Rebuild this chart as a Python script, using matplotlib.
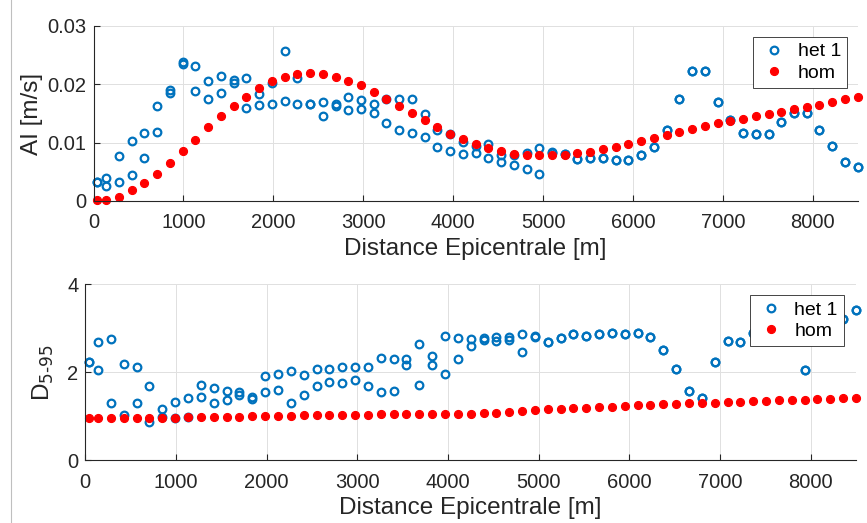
import matplotlib
matplotlib.use("Agg")
import matplotlib.pyplot as plt
from matplotlib.lines import Line2D

plt.rcParams['font.family'] = ['Liberation Sans', 'DejaVu Sans']

distance = [40, 142, 283, 425, 567, 708, 850, 992, 1133, 1275, 1417, 1558, 1700, 1842, 1983,
            2125, 2267, 2408, 2550, 2692, 2833, 2975, 3117, 3258, 3400, 3542, 3683, 3825, 3967,
            4108, 4250, 4392, 4533, 4675, 4817, 4958, 5100, 5242, 5383, 5525, 5667, 5808, 5950,
            6092, 6233, 6375, 6517, 6658, 6800, 6942, 7083, 7225, 7367, 7508, 7650, 7792, 7933,
            8075, 8217, 8358, 8500]

# Arias intensity [m/s]
ai_het1_a = [0.0033, 0.0039, 0.0077, 0.0103, 0.0116, 0.0163, 0.0190, 0.0238, 0.0231, 0.0205,
             0.0214, 0.0207, 0.0210, 0.0183, 0.0202, 0.0257, 0.0211, 0.0167, 0.0170, 0.0166,
             0.0179, 0.0173, 0.0167, 0.0175, 0.0175, 0.0174, 0.0149, 0.0122, 0.0114, 0.0101,
             0.0094, 0.0098, 0.0079, 0.0079, 0.0083, 0.0091, 0.0084, 0.0080, 0.0072, 0.0073,
             0.0074, 0.0070, 0.0070, 0.0078, 0.0093, 0.0121, 0.0175, 0.0223, 0.0223, 0.0169,
             0.0139, 0.0116, 0.0114, 0.0115, 0.0136, 0.0151, 0.0150, 0.0121, 0.0095, 0.0067,
             0.0059]
ai_het1_b = [0.0033, 0.0026, 0.0032, 0.0045, 0.0073, 0.0118, 0.0185, 0.0235, 0.0189, 0.0174,
             0.0185, 0.0202, 0.0159, 0.0165, 0.0166, 0.0172, 0.0167, 0.0167, 0.0146, 0.0163,
             0.0156, 0.0158, 0.0150, 0.0133, 0.0122, 0.0116, 0.0110, 0.0093, 0.0086, 0.0081,
             0.0083, 0.0073, 0.0067, 0.0061, 0.0054, 0.0047, 0.0083, 0.0080, 0.0072, 0.0073,
             0.0074, 0.0070, 0.0070, 0.0078, 0.0093, 0.0121, 0.0175, 0.0223, 0.0223, 0.0169,
             0.0139, 0.0116, 0.0114, 0.0115, 0.0136, 0.0151, 0.0150, 0.0121, 0.0095, 0.0067,
             0.0059]
ai_hom = [0.0001, 0.0002, 0.0007, 0.0018, 0.0031, 0.0046, 0.0065, 0.0085, 0.0105, 0.0126,
          0.0145, 0.0163, 0.0179, 0.0193, 0.0205, 0.0213, 0.0218, 0.0219, 0.0217, 0.0213,
          0.0206, 0.0198, 0.0187, 0.0175, 0.0163, 0.0150, 0.0138, 0.0126, 0.0115, 0.0106,
          0.0097, 0.0091, 0.0085, 0.0081, 0.0079, 0.0078, 0.0078, 0.0079, 0.0082, 0.0084,
          0.0089, 0.0093, 0.0098, 0.0103, 0.0108, 0.0113, 0.0118, 0.0123, 0.0128, 0.0133,
          0.0137, 0.0141, 0.0145, 0.0149, 0.0153, 0.0157, 0.0161, 0.0165, 0.0169, 0.0174,
          0.0179]

# Significant duration D5-95
d_het1_a = [2.23, 2.70, 2.75, 2.20, 2.11, 1.68, 1.17, 1.32, 1.42, 1.72, 1.64, 1.57, 1.56, 1.45,
            1.91, 1.96, 2.02, 1.95, 2.08, 2.08, 2.13, 2.12, 2.13, 2.32, 2.30, 2.30, 2.65, 2.38,
            2.82, 2.77, 2.76, 2.77, 2.81, 2.81, 2.86, 2.83, 2.70, 2.78, 2.86, 2.83, 2.88, 2.89,
            2.87, 2.90, 2.80, 2.50, 2.08, 1.58, 1.42, 2.23, 2.71, 2.68, 2.90, 3.00, 3.10, 3.20,
            2.06, 3.25, 3.30, 3.22, 3.42]
d_het1_b = [2.23, 2.05, 1.31, 1.02, 1.30, 0.88, 0.99, 0.97, 0.99, 1.45, 1.31, 1.36, 1.48, 1.39,
            1.56, 1.59, 1.30, 1.49, 1.68, 1.78, 1.76, 1.83, 1.70, 1.55, 1.58, 2.17, 1.72, 2.17,
            1.97, 2.31, 2.59, 2.73, 2.72, 2.73, 2.47, 2.80, 2.70, 2.78, 2.86, 2.83, 2.88, 2.89,
            2.87, 2.90, 2.80, 2.50, 2.08, 1.58, 1.42, 2.23, 2.71, 2.68, 2.90, 3.00, 3.10, 3.20,
            2.06, 3.25, 3.30, 3.22, 3.42]
d_hom = [0.97, 0.97, 0.97, 0.97, 0.97, 0.97, 0.97, 0.97, 0.98, 0.98, 0.98, 0.99, 0.99, 1.00,
         1.00, 1.01, 1.01, 1.02, 1.02, 1.03, 1.03, 1.04, 1.04, 1.05, 1.05, 1.06, 1.06, 1.06,
         1.06, 1.06, 1.06, 1.08, 1.08, 1.09, 1.13, 1.14, 1.16, 1.17, 1.19, 1.20, 1.21, 1.22,
         1.23, 1.25, 1.26, 1.27, 1.28, 1.30, 1.31, 1.31, 1.32, 1.33, 1.34, 1.35, 1.36, 1.37,
         1.38, 1.39, 1.40, 1.41, 1.42]

series_labels = ["het 1", "hom"]
xlabel_text = "Distance Epicentrale [m]"
x_ticks = [0, 1000, 2000, 3000, 4000, 5000, 6000, 7000, 8000]
ai_ticks = [0, 0.01, 0.02, 0.03]
ai_tick_labels = ["0", "0.01", "0.02", "0.03"]
d_ticks = [0, 2, 4]

BLUE = (0.0, 0.447, 0.741)
RED = (1.0, 0.0, 0.0)
TXT = (0.15, 0.15, 0.15)

W, H = 867, 523
fig = plt.figure(figsize=(W / 100, H / 100), dpi=100)
fig.add_artist(Line2D([11 / W, 11 / W], [0, 1], color=(0.75, 0.75, 0.75), lw=0.8,
                      transform=fig.transFigure))

ax1 = fig.add_axes([93.5 / W, 1 - 201 / H, (857.7 - 93.5) / W, 175 / H])
ax2 = fig.add_axes([85.3 / W, 1 - 460.3 / H, (856 - 85.3) / W, 176 / H])


def style(ax):
    for s in ["top", "right"]:
        ax.spines[s].set_visible(False)
    for s in ["left", "bottom"]:
        ax.spines[s].set_color(TXT)
        ax.spines[s].set_linewidth(0.8)
    ax.tick_params(direction="in", length=4, width=0.8, colors=TXT, labelsize=14.5,
                   labelcolor=TXT)
    ax.tick_params(axis="x", pad=9)
    ax.tick_params(axis="y", pad=5)
    ax.grid(True, color=(0.88, 0.88, 0.88), lw=0.7)
    ax.set_axisbelow(True)
    ax.set_xlim(0, 8500)
    ax.set_xticks(x_ticks)
    ax.set_xlabel(xlabel_text, fontsize=17.5, color=TXT, labelpad=4)


mk_het = dict(ls="none", marker="o", ms=5.5, mfc="none", mec=BLUE, mew=1.6, clip_on=False)
mk_hom = dict(ls="none", marker="o", ms=5.8, mfc=RED, mec=RED, mew=0.8, clip_on=False)

leg_kw = dict(loc="upper right", borderaxespad=0, fontsize=14, fancybox=False, framealpha=1,
              edgecolor=(0.15, 0.15, 0.15), handletextpad=0.4, handlelength=1.6,
              borderpad=0.3, labelspacing=0.2)

# top
ax1.plot(distance, ai_het1_a, label=series_labels[0], **mk_het)
ax1.plot(distance, ai_het1_b, **mk_het)
ax1.plot(distance, ai_hom, label=series_labels[1], **mk_hom)
style(ax1)
ax1.set_ylim(0, 0.03)
ax1.set_yticks(ai_ticks)
ax1.set_yticklabels(ai_tick_labels)
ax1.set_ylabel("AI [m/s]", fontsize=17.5, color=TXT, labelpad=3)
leg1 = ax1.legend(bbox_to_anchor=(0.986, 0.937), **leg_kw)
leg1.get_frame().set_linewidth(0.6)
leg1.set_zorder(5)

# bottom
ax2.plot(distance, d_het1_a, label=series_labels[0], **mk_het)
ax2.plot(distance, d_het1_b, **mk_het)
ax2.plot(distance, d_hom, label=series_labels[1], **mk_hom)
style(ax2)
ax2.set_ylim(0, 4)
ax2.set_yticks(d_ticks)
ax2.set_ylabel(r"D$_{5\text{-}95}$", fontsize=17.5, color=TXT, labelpad=8)
leg2 = ax2.legend(bbox_to_anchor=(0.984, 0.9375), **leg_kw)
leg2.get_frame().set_linewidth(0.6)
leg2.set_zorder(5)

fig.savefig("out.png", dpi=100)
